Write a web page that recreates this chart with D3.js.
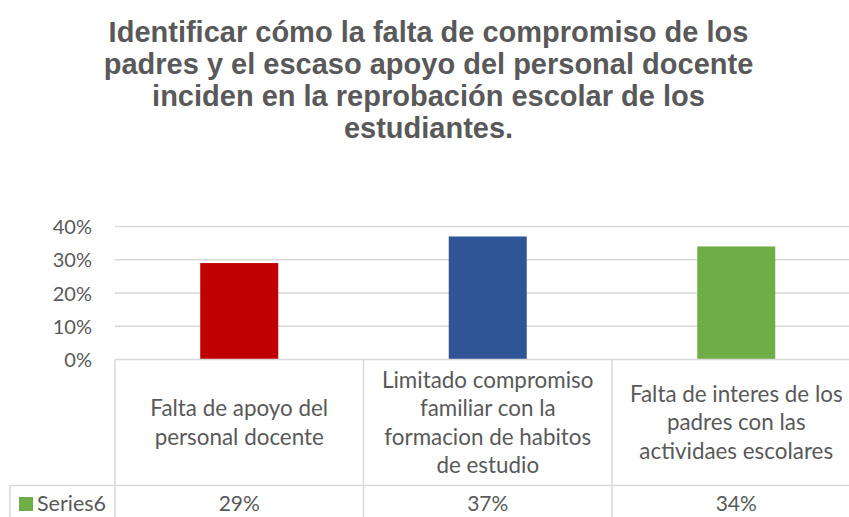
<!DOCTYPE html>
<html><head><meta charset="utf-8">
<script src="https://cdn.jsdelivr.net/npm/d3@7"></script>
<style>body{margin:0;background:#fff}svg{display:block}</style>
</head><body>
<svg id="c" width="849" height="517"></svg>
<script>
const titleLines = ["Identificar cómo la falta de compromiso de los","padres y el escaso apoyo del personal docente","inciden en la reprobación escolar de los","estudiantes."];
const categories = [
  ["Falta de apoyo del","personal docente"],
  ["Limitado compromiso","familiar con la","formacion de habitos","de estudio"],
  ["Falta de interes de los","padres con las","actividaes escolares"]
];
const seriesName = "Series6";
const values = [0.29, 0.37, 0.34];
const barColors = ["#C00000","#2F5597","#70AD47"];
const legendColor = "#70AD47";
const yTicks = [0, 0.1, 0.2, 0.3, 0.4];

const svg = d3.select("#c");
const txt = "#595959", grid = "#D9D9D9";
const font = "Lato, 'Open Sans', sans-serif";

const left = 115, step = 248.5, right = left + step*3;
const y0 = 359.5, y40 = 226.5, rowTop = 485.5, bottom = 530;
const x = d3.scaleBand().domain(d3.range(categories.length)).range([left, right]).padding(0);
const y = d3.scaleLinear().domain([0, 0.4]).range([y0, y40]);

// title
svg.append("g").selectAll("text").data(titleLines).join("text")
  .attr("x", 428.5).attr("y", (d,i)=>41.8 + i*32)
  .attr("text-anchor","middle")
  .style("font-family","'Liberation Sans', Arial, sans-serif")
  .style("font-weight","bold").style("font-size","29px").style("fill",txt)
  .text(d=>d);

// gridlines
svg.append("g").selectAll("line").data(yTicks.filter(t=>t>0)).join("line")
  .attr("x1", left).attr("x2", right)
  .attr("y1", d=>y(d)).attr("y2", d=>y(d))
  .attr("stroke", grid).attr("stroke-width", 1.5);

// y axis labels
const yAxis = d3.axisLeft(y).tickValues(yTicks).tickFormat(d3.format(".0%")).tickSize(0).tickPadding(0);
const ga = svg.append("g").attr("transform","translate(92,0)").call(yAxis);
ga.select(".domain").remove();
ga.selectAll("text").style("font-family",font).style("font-size","20px").style("fill",txt).attr("dy","0.35em");

// bars
const bw = 78;
svg.append("g").selectAll("rect").data(values).join("rect")
  .attr("x",(d,i)=>x(i)+x.bandwidth()/2 - bw/2)
  .attr("width", bw)
  .attr("y", d=>y(d)).attr("height", d=>y(0)-y(d))
  .attr("fill",(d,i)=>barColors[i]);

// table lines
const tl = svg.append("g").attr("stroke",grid).attr("stroke-width",1.5);
tl.append("line").attr("x1",left).attr("x2",right).attr("y1",y(0)).attr("y2",y(0));
tl.append("line").attr("x1",10).attr("x2",right).attr("y1",rowTop).attr("y2",rowTop);
tl.append("line").attr("x1",10).attr("x2",10).attr("y1",rowTop).attr("y2",bottom);
tl.selectAll(".v").data(d3.range(categories.length+1)).join("line")
  .attr("x1",i=>left+i*x.step()).attr("x2",i=>left+i*x.step())
  .attr("y1",y(0)).attr("y2",bottom);

// category labels
const lh = 28.5, cellMid = (y(0)+rowTop)/2;
categories.forEach((lines,i)=>{
  const cx = x(i)+x.bandwidth()/2;
  svg.append("g").selectAll("text").data(lines).join("text")
    .attr("x",cx).attr("y",(d,j)=>cellMid + (j-(lines.length-1)/2)*lh)
    .attr("dy","0.35em").attr("text-anchor","middle")
    .style("font-family",font).style("font-size","22.4px").style("fill",txt)
    .text(d=>d);
});

// value row
svg.append("g").selectAll("text").data(values).join("text")
  .attr("x",(d,i)=>x(i)+x.bandwidth()/2).attr("y",503.5).attr("dy","0.35em")
  .attr("text-anchor","middle")
  .style("font-family",font).style("font-size","21px").style("fill",txt)
  .text(d=>d3.format(".0%")(d));

// legend
svg.append("rect").attr("x",19).attr("y",497).attr("width",14).attr("height",14).attr("fill",legendColor);
svg.append("text").attr("x",37).attr("y",503.5).attr("dy","0.35em")
  .style("font-family",font).style("font-size","21.5px").style("fill",txt).text(seriesName);
</script>
</body></html>
